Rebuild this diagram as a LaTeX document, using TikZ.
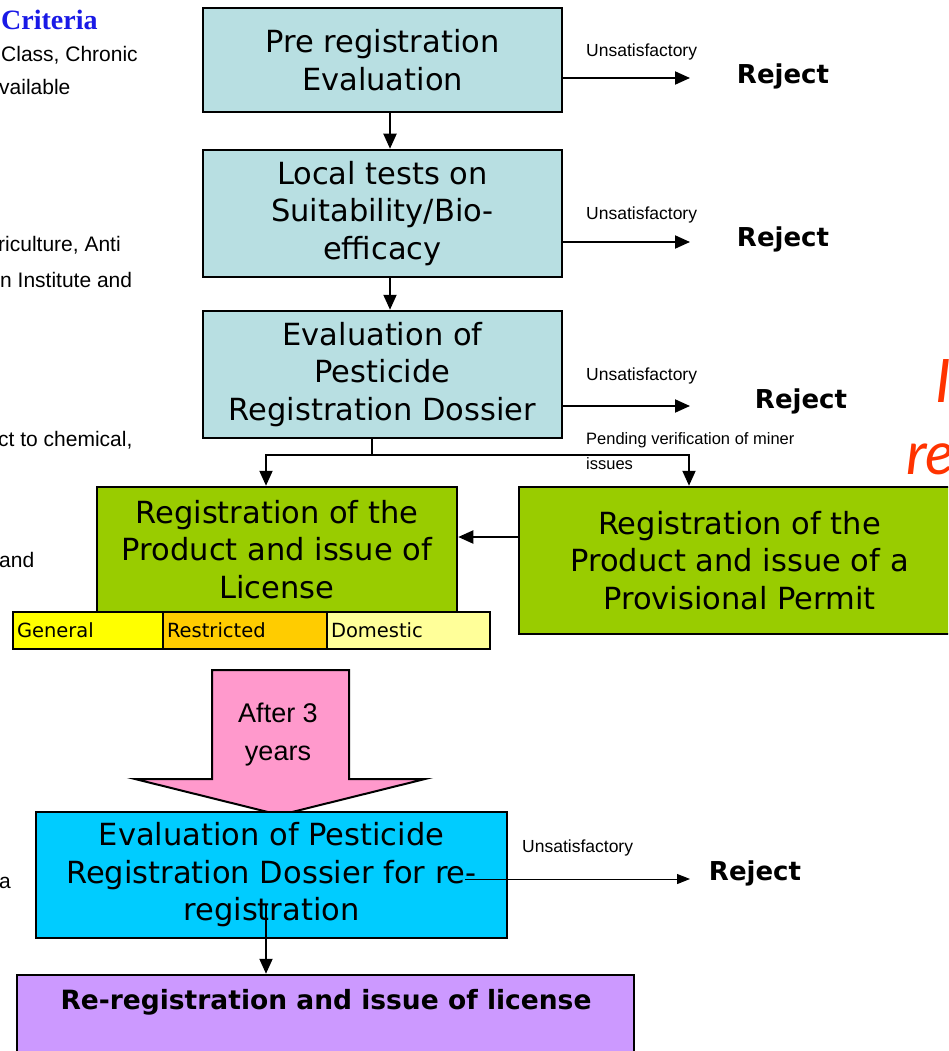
\documentclass[tikz,border=0pt]{standalone}
\usepackage{fontspec}
\usetikzlibrary{arrows.meta}
\newfontfamily\boxfont{DejaVu Sans}
\newfontfamily\arialfont{Liberation Sans}
\newfontfamily\serifbfont{Liberation Serif}
\newfontfamily\redfont{Lato}
\definecolor{lblue}{RGB}{184,223,226}
\definecolor{lgreen}{RGB}{153,204,0}
\definecolor{cyanbox}{RGB}{0,204,255}
\definecolor{purplebox}{RGB}{204,153,255}
\definecolor{pinkarrow}{RGB}{255,153,204}
\definecolor{genyellow}{RGB}{255,255,0}
\definecolor{resorange}{RGB}{255,204,0}
\definecolor{domyellow}{RGB}{255,255,153}
\definecolor{critblue}{RGB}{25,25,230}
\definecolor{redtext}{RGB}{255,51,0}
\tikzset{
  stagebox/.style={draw, line width=2.5pt, align=center, inner sep=0pt,
    font={\boxfont\fontsize{30.5}{37.5}\selectfont}},
  cellbox/.style={draw, line width=2pt, anchor=west, align=left, inner xsep=4pt, inner ysep=0pt,
    minimum height=37pt, font={\boxfont\fontsize{19.5}{21}\selectfont}},
  conn/.style={line width=2pt, -{Triangle[length=15pt,width=13pt]}},
  plainline/.style={line width=2pt},
  unsat/.style={anchor=west, inner sep=0pt, font={\arialfont\fontsize{17.5}{25}\selectfont}},
  rejectlbl/.style={inner sep=0pt, font={\boxfont\bfseries\fontsize{26}{28}\selectfont}},
  sidetext/.style={anchor=west, inner sep=0pt, font={\arialfont\fontsize{21}{25}\selectfont}},
}
\begin{document}
\begin{tikzpicture}[x=1pt,y=-1pt]
\useasboundingbox (0,0) rectangle (948,1051);
\clip (0,0) rectangle (948,1051);

% left side cut-off text
\node[anchor=west, inner sep=0pt, text=critblue, font={\serifbfont\bfseries\fontsize{28}{30}\selectfont}] (crit) at (1,20) {Criteria};
\node[sidetext] (s1) at (1,55) {Class, Chronic};
\node[sidetext] (s2) at (-1,87) {vailable};
\node[sidetext] (s3) at (-2,245) {riculture, Anti};
\node[sidetext] (s4) at (0,280) {n Institute and};
\node[sidetext] (s5) at (-2,440) {ct to chemical,};
\node[sidetext] (s6) at (-1,560) {and};
\node[sidetext] (s7) at (-1,883) {a};

% red cut-off text
\node[anchor=base west, inner sep=0pt, text=redtext, font={\redfont\itshape\fontsize{60}{70}\selectfont}] (red1) at (935,402) {I};
\node[anchor=base west, inner sep=0pt, text=redtext, font={\redfont\itshape\fontsize{60}{70}\selectfont}] (red2) at (906,474) {re};

% main stages
\node[stagebox, fill=lblue, minimum width=359pt, minimum height=104pt] (b1) at (382.5,60) {Pre registration\\Evaluation};
\node[stagebox, fill=lblue, minimum width=359pt, minimum height=127pt] (b2) at (382.5,213.5) {Local tests on\\Suitability/Bio-\\efficacy};
\node[stagebox, fill=lblue, minimum width=359pt, minimum height=127pt] (b3) at (382.5,374.5) {Evaluation of\\Pesticide\\Registration Dossier};

\node[stagebox, fill=lgreen, minimum width=360pt, minimum height=125pt] (g1) at (277,549.5) {Registration of the\\Product and issue of\\License};
\node[stagebox, fill=lgreen, minimum width=441pt, minimum height=147pt] (g2) at (739.5,560.5) {Registration of the\\Product and issue of a\\Provisional Permit};

% license categories
\node[cellbox, fill=genyellow, text width=142pt] (gen) at (12,630.5) {General};
\node[cellbox, fill=resorange, text width=156pt] (res) at (162,630.5) {Restricted};
\node[cellbox, fill=domyellow, text width=155pt] (dom) at (326,630.5) {Domestic};

% pink block arrow
\draw[line width=2pt, fill=pinkarrow] (212,670) -- (349,670) -- (349,779) -- (425,779) -- (280,815) -- (135,779) -- (212,779) -- cycle;
\node[inner sep=0pt, align=center, font={\arialfont\fontsize{27}{38}\selectfont}] (after) at (278,735) {After 3\\years};

\node[stagebox, fill=cyanbox, minimum width=471pt, minimum height=126pt] (c4) at (271.5,875) {Evaluation of Pesticide\\Registration Dossier for re-\\registration};
\node[draw, line width=2.5pt, fill=purplebox, minimum width=617pt, minimum height=90pt, inner sep=0pt] (pur) at (325.5,1020) {};
\node[inner sep=0pt, font={\boxfont\bfseries\fontsize{26.5}{28}\selectfont}] (purtxt) at (326,1002) {Re-registration and issue of license};

% vertical flow
\coordinate (ax) at (390,0);
\draw[conn] (b1.south -| ax) -- (b2.north -| ax);
\draw[conn] (b2.south -| ax) -- (b3.north -| ax);

% reject branches
\coordinate (r1) at (690,78);
\coordinate (r2) at (690,242);
\coordinate (r3) at (690,406);
\draw[conn] (b1.east |- r1) -- (r1);
\draw[conn] (b2.east |- r2) -- (r2);
\draw[conn] (b3.east |- r3) -- (r3);
\node[unsat] (u1) at (586,52) {Unsatisfactory};
\node[unsat] (u2) at (586,215) {Unsatisfactory};
\node[unsat] (u3) at (586,376) {Unsatisfactory};
\node[rejectlbl] (rej1) at (783,76) {Reject};
\node[rejectlbl] (rej2) at (783,239) {Reject};
\node[rejectlbl] (rej3) at (801,401) {Reject};

% split to registration
\coordinate (jn) at (372,455);
\coordinate (jl) at (266,455);
\coordinate (jr) at (689,455);
\draw[plainline] (b3.south -| jn) -- (jn);
\draw[conn] (jn) -- (jl) -- (g1.north -| jl);
\draw[conn] (jn) -- (jr) -- (g2.north -| jr);
\node[unsat, anchor=north west, align=left, font={\arialfont\fontsize{16.5}{25}\selectfont}] (pend) at (586,432) {Pending verification of miner\\issues};

\coordinate (ay) at (0,537);
\draw[conn] (g2.west |- ay) -- (g1.east |- ay);

% re-registration reject
\coordinate (c4s) at (465,879);
\coordinate (r4) at (690,879);
\draw[line width=1pt, -{Triangle[length=13pt,width=10pt]}] (c4s) -- (r4);
\node[unsat] (u4) at (522,848) {Unsatisfactory};
\node[rejectlbl] (rej4) at (755,873) {Reject};

\coordinate (cv) at (266,905);
\draw[conn] (cv) -- (pur.north -| cv);
\end{tikzpicture}
\end{document}
